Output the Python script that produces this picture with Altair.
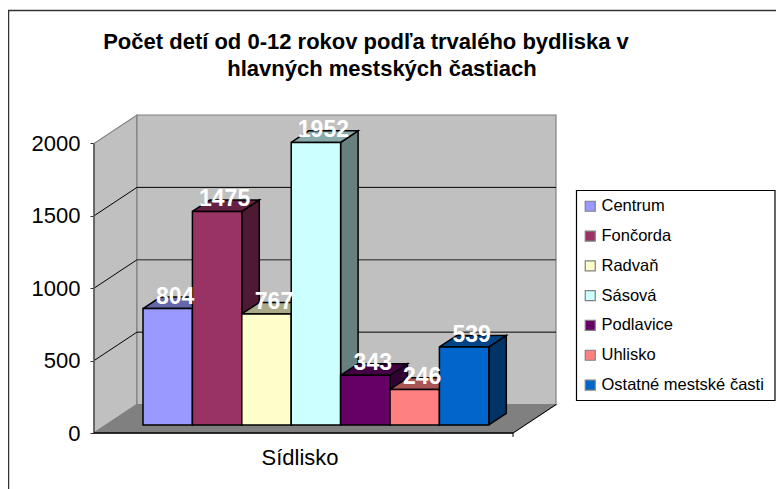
import altair as alt
import pandas as pd

names = ["Centrum", "Fončorda", "Radvaň", "Sásová", "Podlavice", "Uhlisko", "Ostatné mestské časti"]
values = [804, 1475, 767, 1952, 343, 246, 539]
front = ["#9999FF", "#993366", "#FFFFCC", "#CCFFFF", "#660066", "#FF8080", "#0066CC"]
side = ["#4D4D80", "#4D1933", "#808066", "#668080", "#330033", "#804040", "#003366"]
top = ["#6666AA", "#662244", "#AAAA88", "#88AAAA", "#440044", "#AA5555", "#004488"]
ticks = [0, 500, 1000, 1500, 2000]
title_lines = ["Počet detí od 0-12 rokov podľa trvalého bydliska v", "hlavných mestských častiach"]
x_title = "Sídlisko"

XL, XR = -0.992, 8.36      # plot extent in category units
YTOP = 2196.6              # plot extent in value units
WALL_DX, WALL_DY = 0.87, 196.6   # depth of the floor / walls
BAR_DX, BAR_DY = 0.354, 80.0     # depth of each column
BASE = 55.3                # columns stand this far in from the floor's front edge


def polygons(faces):
    rows = []
    for fid, (color, pts) in enumerate(faces):
        for k, (x, y) in enumerate(pts + pts[:1]):
            rows.append({"id": fid, "k": k, "x": x, "y": y, "c": color})
    return pd.DataFrame(rows)


def lines(segs):
    rows = []
    for lid, (color, w, pts) in enumerate(segs):
        for k, (x, y) in enumerate(pts):
            rows.append({"id": lid, "k": k, "x": x, "y": y, "c": color, "w": w})
    return pd.DataFrame(rows)


xs = alt.Scale(domain=[XL, XR], nice=False, zero=False)
ys = alt.Scale(domain=[0, YTOP], nice=False, zero=False)
X = alt.X("x:Q", scale=xs, axis=None)
AXIS = alt.Axis(
    values=ticks, title=None, grid=False, domain=False, tickSize=4, tickColor="#333333", format="d",
    labelFontSize=22, labelFont="Liberation Sans", labelColor="#000000", labelPadding=10,
)


def poly_layer(df, stroke, width):
    return alt.Chart(df).mark_line(interpolate="linear", stroke=stroke, strokeWidth=width, strokeJoin="miter").encode(
        x=X, y=alt.Y("y:Q", scale=ys, axis=AXIS), order="k:Q", detail="id:N",
        fill=alt.Fill("c:N", scale=None),
    )


walls = poly_layer(polygons([
    ("#C0C0C0", [(XL, 0), (XL, 2000), (XL + WALL_DX, YTOP), (XL + WALL_DX, WALL_DY)]),
    ("#C0C0C0", [(XL + WALL_DX, WALL_DY), (XL + WALL_DX, YTOP), (XR, YTOP), (XR, WALL_DY)]),
    ("#808080", [(XL, 0), (XL + WALL_DX, WALL_DY), (XR, WALL_DY), (XR - WALL_DX, 0)]),
]), "#808080", 1.2)

grid_segs = []
for t in ticks[1:-1]:
    grid_segs.append(("#000000", 1, [(XL, t), (XL + WALL_DX, t + WALL_DY)]))
    grid_segs.append(("#555555" if t == 1000 else "#000000", 1.6 if t == 1000 else 1,
                      [(XL + WALL_DX, t + WALL_DY), (XR, t + WALL_DY)]))
grid_segs += [
    ("#555555", 1.5, [(XL, 0), (XL, 2000)]),
    ("#000000", 1.5, [(XL, 0), (XR - WALL_DX, 0)]),
    ("#000000", 1, [(XR - WALL_DX, 0), (XR, WALL_DY)]),
    ("#000000", 1, [(XR - WALL_DX, 0), (XR - WALL_DX, -27)]),
]
grid = alt.Chart(lines(grid_segs)).mark_line(interpolate="linear").encode(
    x=X,
    y=alt.Y("y:Q", scale=ys, axis=AXIS),
    order="k:Q", detail="id:N",
    color=alt.Color("c:N", scale=None),
    strokeWidth=alt.StrokeWidth("w:Q", scale=None),
)

faces = []
for i, v in enumerate(values):
    h = v + BASE
    faces.append((side[i], [(i + 1, BASE), (i + 1, h), (i + 1 + BAR_DX, h + BAR_DY), (i + 1 + BAR_DX, BASE + BAR_DY)]))
    faces.append((top[i], [(i, h), (i + BAR_DX, h + BAR_DY), (i + 1 + BAR_DX, h + BAR_DY), (i + 1, h)]))
depth = poly_layer(polygons(faces), "#000000", 1.5)

bars_df = pd.DataFrame({
    "name": names, "value": values,
    "x0": list(range(7)), "x1": [i + 1 for i in range(7)],
    "y0": [BASE] * 7, "y1": [v + BASE for v in values],
})
bars = alt.Chart(bars_df).mark_bar(stroke="#000000", strokeWidth=1.5).encode(
    x=alt.X("x0:Q", scale=xs, axis=None), x2="x1:Q",
    y=alt.Y("y1:Q", scale=ys, axis=AXIS), y2="y0:Q",
    fill=alt.Fill("name:N", sort=names, scale=alt.Scale(domain=names, range=front), legend=alt.Legend(
        title=None, orient="none", legendX=488, legendY=83, symbolType="square", symbolSize=100,
        symbolStrokeColor="#000000", symbolStrokeWidth=1.2, labelFont="Liberation Sans",
        labelFontSize=16.5, labelColor="#000000", labelLimit=300, labelOffset=3, rowPadding=12.8,
    )),
)
labels = alt.Chart(bars_df).transform_calculate(mid="datum.x0 + 0.5").mark_text(
    color="white", fontWeight="bold", fontSize=23, font="Liberation Sans", dx=7.5, dy=-12,
).encode(x=alt.X("mid:Q", scale=xs, axis=None), y=alt.Y("y1:Q", scale=ys, axis=AXIS), text="value:Q")

legend_box = alt.Chart(pd.DataFrame({"a": [0]})).mark_rect(fill="white", stroke="#000000", strokeWidth=1.2).encode(
    x=alt.value(482.5), x2=alt.value(681), y=alt.value(75.5), y2=alt.value(285.5))

def one_text(s, px, py, **kw):
    return alt.Chart(pd.DataFrame({"t": [s]})).mark_text(font="Liberation Sans", color="#000000", **kw).encode(
        x=alt.value(px), y=alt.value(py), text="t:N")

title1 = one_text(title_lines[0], 272, -73, fontSize=22, fontWeight="bold")
title2 = one_text(title_lines[1], 288, -46, fontSize=22, fontWeight="bold")
xlab = one_text(x_title, 206, 343, fontSize=22)

rule_top = alt.Chart(pd.DataFrame({"a": [0]})).mark_rule(color="#333333", strokeWidth=1.5).encode(
    x=alt.value(-86), x2=alt.value(690), y=alt.value(-104.5))
rule_left = alt.Chart(pd.DataFrame({"a": [0]})).mark_rule(color="#333333", strokeWidth=1.5).encode(
    x=alt.value(-85.5), y=alt.value(-104.5), y2=alt.value(374))

chart = alt.layer(
    rule_top, rule_left, legend_box, walls, grid, depth, bars, labels, title1, title2, xlab
).resolve_scale(x="shared", y="shared").properties(
    width=462, height=318,
    autosize=alt.AutoSizeParams(type="none"),
    padding={"left": 86, "top": 107, "right": 220, "bottom": 56},
    background="white",
).configure_view(stroke=None)

chart.save("out.html", embed_options={"renderer": "svg", "actions": False})
